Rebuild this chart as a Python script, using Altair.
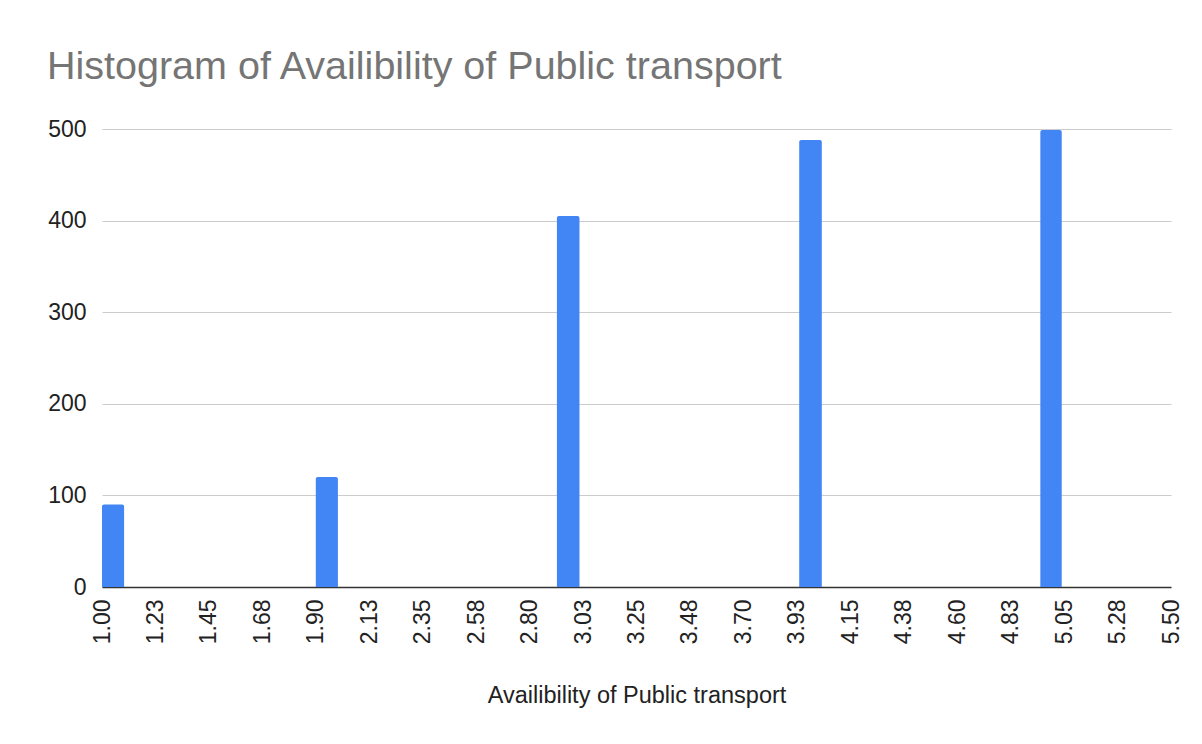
import altair as alt
import pandas as pd

# Histogram buckets
bin_start = [1.00, 1.90, 2.915, 3.935, 4.95]
bin_end = [1.093, 1.993, 3.01, 4.03, 5.04]
counts = [90, 120, 405, 488, 499]

# Axis ticks
x_tick_values = [1.0, 1.225, 1.45, 1.675, 1.9, 2.125, 2.35, 2.575, 2.8, 3.025,
                 3.25, 3.475, 3.7, 3.925, 4.15, 4.375, 4.6, 4.825, 5.05, 5.275, 5.5]
x_tick_labels = ["1.00", "1.23", "1.45", "1.68", "1.90", "2.13", "2.35", "2.58", "2.80", "3.03",
                 "3.25", "3.48", "3.70", "3.93", "4.15", "4.38", "4.60", "4.83", "5.05", "5.28", "5.50"]
y_tick_values = [0, 100, 200, 300, 400, 500]

df = pd.DataFrame({"start": bin_start, "end": bin_end, "count": counts})

label_expr = (
    "[" + ",".join(f"'{s}'" for s in x_tick_labels) + "]"
    + "[indexof([" + ",".join(repr(v) for v in x_tick_values) + "], datum.value)]"
)

FONT = "Liberation Sans"

chart = alt.Chart(df).mark_bar(
    color="#4285F4", cornerRadiusTopLeft=2, cornerRadiusTopRight=2, orient="vertical"
).encode(
    x=alt.X(
        "start:Q",
        scale=alt.Scale(domain=[1, 5.5], nice=False, zero=False, padding=0),
        axis=alt.Axis(
            values=x_tick_values,
            labelExpr=label_expr,
            labelAngle=270,
            labelFontSize=23,
            labelFont=FONT,
            labelColor="#222222",
            labelPadding=12,
            labelOverlap=False,
            labelFlush=False,
            labelBound=False,
            ticks=False,
            grid=False,
            domainColor="#333333",
            domainWidth=1.5,
            title="Availibility of Public transport",
            titleFont=FONT,
            titleFontSize=23.5,
            titleFontWeight="normal",
            titleColor="#222222",
            titlePadding=40,
        ),
    ),
    x2="end:Q",
    y=alt.Y(
        "count:Q",
        scale=alt.Scale(domain=[0, 500], nice=False, padding=0),
        axis=alt.Axis(
            values=y_tick_values,
            format="d",
            labelFontSize=23,
            labelFont=FONT,
            labelColor="#222222",
            labelPadding=16,
            ticks=False,
            domain=False,
            gridColor="#cccccc",
            gridWidth=1,
            title=None,
        ),
    ),
    y2=alt.datum(0),
).properties(
    width=1069,
    height=458,
    padding={"left": 94, "top": 121, "right": 22, "bottom": 130},
    autosize="none",
    background="white",
    title=alt.TitleParams(
        "Histogram of Availibility of Public transport",
        anchor="start",
        frame="group",
        font=FONT,
        fontSize=39.5,
        fontWeight="normal",
        color="#757575",
        dx=-55,
        baseline="alphabetic",
        offset=0,
    ),
).configure_view(stroke=None)

chart.save("out.html", embed_options={"renderer": "svg", "actions": False})
